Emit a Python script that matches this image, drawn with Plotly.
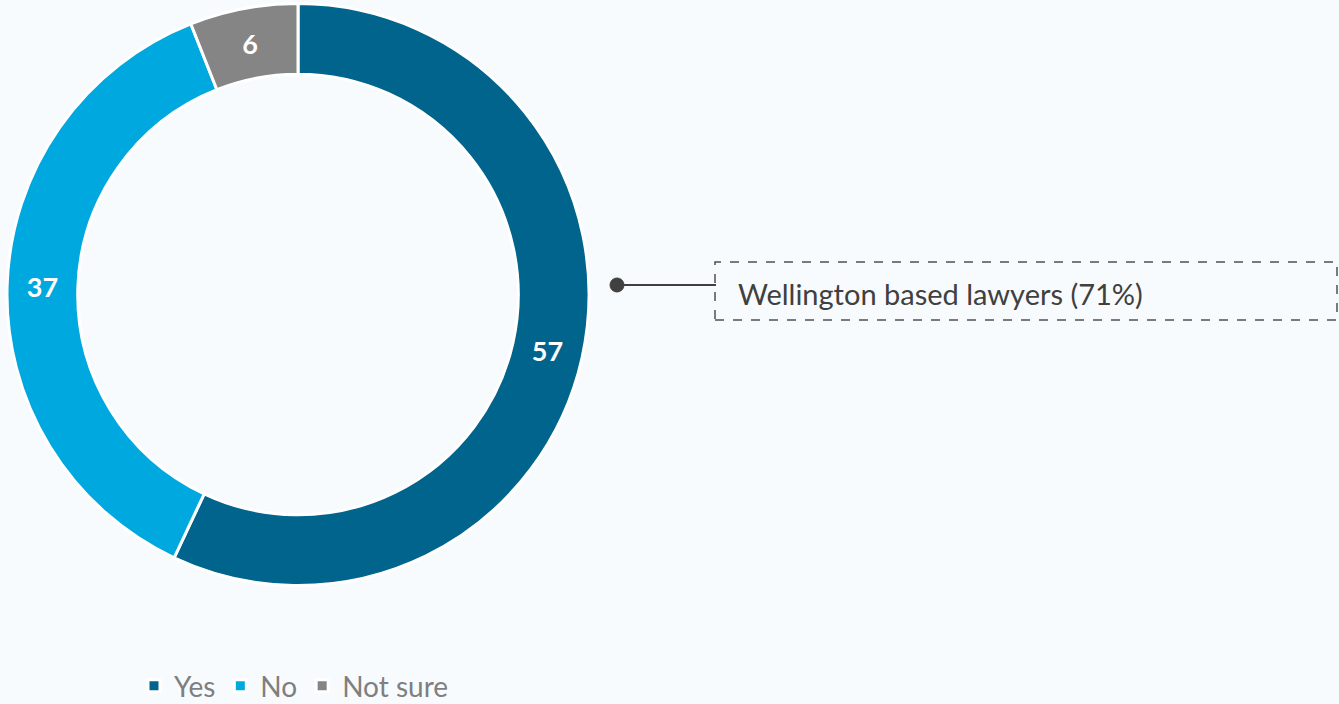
import plotly.graph_objects as go

labels = ["Yes", "No", "Not sure"]
values = [57, 37, 6]
colors = ["#00648C", "#00A8E0", "#858585"]
callout_text = "Wellington based lawyers (71%)"

W, H = 1339, 704
BG = "#F7FBFD"
FONT = "Lato, Open Sans, Liberation Sans, sans-serif"

def px(x):
    return x / W

def py(y):
    return 1 - y / H

fig = go.Figure()
fig.add_trace(go.Pie(
    labels=labels, values=values, hole=0.757, sort=False, direction="clockwise",
    rotation=0,
    marker=dict(colors=colors, line=dict(color="white", width=3)),
    textinfo="value", textposition="inside", insidetextorientation="horizontal",
    textfont=dict(family=FONT, size=27, color="white", weight="bold"),
    domain=dict(x=[px(7), px(589)], y=[py(586), py(3)]),
    hoverinfo="label+value",
))

# callout: dot, connector line, dashed box
fig.add_shape(type="line", xref="paper", yref="paper",
              x0=px(617), x1=px(716), y0=py(285), y1=py(285),
              line=dict(color="#404040", width=2))
fig.add_shape(type="circle", xref="paper", yref="paper",
              x0=px(610), x1=px(624), y0=py(292), y1=py(278),
              fillcolor="#404040", line=dict(color="#404040", width=1))
fig.add_shape(type="rect", xref="paper", yref="paper",
              x0=px(715), x1=px(1337), y0=py(320), y1=py(262),
              line=dict(color="#505050", width=1.5, dash="dash"))
fig.add_annotation(xref="paper", yref="paper", x=px(736), y=py(293),
                   xanchor="left", yanchor="middle", showarrow=False,
                   text=callout_text,
                   font=dict(family=FONT, size=29, color="#404040"))

fig.update_layout(
    width=W, height=H,
    paper_bgcolor=BG, plot_bgcolor=BG,
    margin=dict(l=0, r=0, t=0, b=0, autoexpand=False),
    showlegend=True,
    legend=dict(orientation="h", x=px(134), xanchor="left", y=py(711), yanchor="bottom",
                font=dict(family=FONT, size=28, color="#7F7F7F"),
                traceorder="normal", bgcolor="rgba(0,0,0,0)"),
)

fig.write_html("out.html", config={"displayModeBar": False},
               post_script="document.body.style.margin='0';document.body.style.background='%s';" % BG)
